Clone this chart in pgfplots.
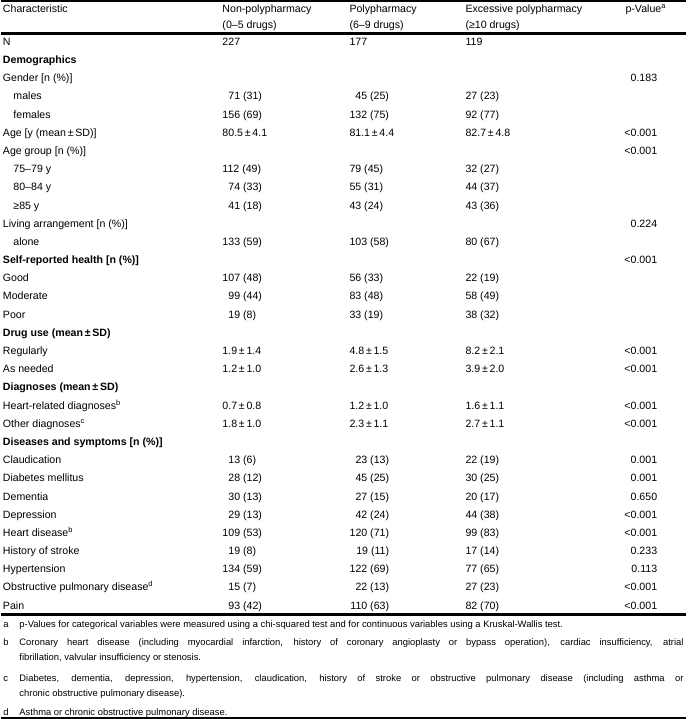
\documentclass[border=0pt]{standalone}
\usepackage{fontspec}
\setmainfont{Liberation Sans}
\usepackage{pgfplots}
\pgfplotsset{compat=1.18}

% sizes are in pt, and 1pt is one pixel of the reference
\newcommand\body{\fontsize{10.6}{13}\selectfont}
\newcommand\foot{\fontsize{9.4}{12}\selectfont}
\newcommand\PM{\,±\,}

% left-aligned text, right-aligned text, footnote text
\newcommand\cellL[3]{\node[anchor=base west,inner sep=0pt,font=\body] at (axis cs:#1,#2) {#3};}
\newcommand\cellR[3]{\node[anchor=base east,inner sep=0pt,font=\body] at (axis cs:#1,#2) {#3};}
\newcommand\note[3]{\node[anchor=base west,inner sep=0pt,font=\foot] at (axis cs:#1,#2) {#3};}

% one table row: y, label x, label, three groups, p-value
\newcommand\row[7]{\cellL{#2}{#1}{#3}\cellL{221}{#1}{#4}\cellL{348}{#1}{#5}\cellL{464}{#1}{#6}\cellR{656}{#1}{#7}}
% diseases rows: the polypharmacy column is right-aligned
\newcommand\drow[6]{\cellL{1.5}{#1}{#2}\cellL{221}{#1}{#3}\cellR{388}{#1}{#4}\cellL{464}{#1}{#5}\cellR{656}{#1}{#6}}

\begin{document}
\begin{tikzpicture}
\begin{axis}[
  width=685pt, height=719pt, scale only axis,
  xmin=0, xmax=685, ymin=0, ymax=719, y dir=reverse,
  hide axis, clip=false]

% rules
\addplot[black, line width=2.5pt] coordinates {(0,1.3) (685,1.3)};
\addplot[black, line width=2.5pt] coordinates {(0,33.4) (685,33.4)};
\addplot[black, line width=2.5pt] coordinates {(0,614.3) (685,614.3)};
\addplot[black, line width=2.5pt] coordinates {(0,717.7) (685,717.7)};

% header
\cellL{1.5}{12.5}{Characteristic}
\cellL{221}{12.5}{Non-polypharmacy}
\cellL{221}{28.5}{(0–5 drugs)}
\cellL{348}{12.5}{Polypharmacy}
\cellL{348}{28.5}{(6–9 drugs)}
\cellL{464}{12.5}{Excessive polypharmacy}
\cellL{464}{28.5}{(≥10 drugs)}
\cellL{624}{12.5}{p-Value\textsuperscript{a}}

% body
\row{45.5}{1.5}{N}{227}{177}{119}{}
\row{63.7}{1.5}{\textbf{Demographics}}{}{}{}{}
\row{81.9}{1.5}{Gender [n (\%)]}{}{}{}{0.183}
\row{100.0}{12}{males}{\phantom{0}71 (31)}{\phantom{0}45 (25)}{27 (23)}{}
\row{118.2}{12}{females}{156 (69)}{132 (75)}{92 (77)}{}
\row{136.4}{1.5}{Age [y (mean\PM SD)]}{80.5\PM 4.1}{81.1\PM 4.4}{82.7\PM 4.8}{<0.001}
\row{154.6}{1.5}{Age group [n (\%)]}{}{}{}{<0.001}
\row{172.8}{12}{75–79 y}{112 (49)}{79 (45)}{32 (27)}{}
\row{190.9}{12}{80–84 y}{\phantom{0}74 (33)}{55 (31)}{44 (37)}{}
\row{209.1}{12}{≥85 y}{\phantom{0}41 (18)}{43 (24)}{43 (36)}{}
\row{227.3}{1.5}{Living arrangement [n (\%)]}{}{}{}{0.224}
\row{245.5}{12}{alone}{133 (59)}{103 (58)}{80 (67)}{}
\row{263.7}{1.5}{\textbf{Self-reported health [n (\%)]}}{}{}{}{<0.001}
\row{281.8}{1.5}{Good}{107 (48)}{56 (33)}{22 (19)}{}
\row{300.0}{1.5}{Moderate}{\phantom{0}99 (44)}{83 (48)}{58 (49)}{}
\row{318.2}{1.5}{Poor}{\phantom{0}19 (8)}{33 (19)}{38 (32)}{}
\row{336.4}{1.5}{\textbf{Drug use (mean\PM SD)}}{}{}{}{}
\row{354.6}{1.5}{Regularly}{1.9\PM 1.4}{4.8\PM 1.5}{8.2\PM 2.1}{<0.001}
\row{372.7}{1.5}{As needed}{1.2\PM 1.0}{2.6\PM 1.3}{3.9\PM 2.0}{<0.001}
\row{390.9}{1.5}{\textbf{Diagnoses (mean\PM SD)}}{}{}{}{}
\row{409.1}{1.5}{Heart-related diagnoses\textsuperscript{b}}{0.7\PM 0.8}{1.2\PM 1.0}{1.6\PM 1.1}{<0.001}
\row{427.3}{1.5}{Other diagnoses\textsuperscript{c}}{1.8\PM 1.0}{2.3\PM 1.1}{2.7\PM 1.1}{<0.001}
\row{445.5}{1.5}{\textbf{Diseases and symptoms [n (\%)]}}{}{}{}{}
\drow{463.6}{Claudication}{\phantom{0}13 (6)}{23 (13)}{22 (19)}{0.001}
\drow{481.8}{Diabetes mellitus}{\phantom{0}28 (12)}{45 (25)}{30 (25)}{0.001}
\drow{500.0}{Dementia}{\phantom{0}30 (13)}{27 (15)}{20 (17)}{0.650}
\drow{518.2}{Depression}{\phantom{0}29 (13)}{42 (24)}{44 (38)}{<0.001}
\drow{536.4}{Heart disease\textsuperscript{b}}{109 (53)}{120 (71)}{99 (83)}{<0.001}
\drow{554.5}{History of stroke}{\phantom{0}19 (8)}{19 (11)}{17 (14)}{0.233}
\drow{572.7}{Hypertension}{134 (59)}{122 (69)}{77 (65)}{0.113}
\drow{590.9}{Obstructive pulmonary disease\textsuperscript{d}}{\phantom{0}15 (7)}{22 (13)}{27 (23)}{<0.001}
\drow{609.1}{Pain}{\phantom{0}93 (42)}{110 (63)}{82 (70)}{<0.001}

% footnotes
\note{2}{627.5}{a}
\note{18}{627.5}{p-Values for categorical variables were measured using a chi-squared test and for continuous variables using a Kruskal-Wallis test.}
\note{2}{645.5}{b}
\note{18}{645.5}{\makebox[664pt][s]{Coronary heart disease (including myocardial infarction, history of coronary angioplasty or bypass operation), cardiac insufficiency, atrial}}
\note{18}{660.5}{fibrillation, valvular insufficiency or stenosis.}
\note{2}{681.5}{c}
\note{18}{681.5}{\makebox[664pt][s]{Diabetes, dementia, depression, hypertension, claudication, history of stroke or obstructive pulmonary disease (including asthma or}}
\note{18}{696.5}{chronic obstructive pulmonary disease).}
\note{2}{715}{d}
\note{18}{715}{Asthma or chronic obstructive pulmonary disease.}
\end{axis}
\end{tikzpicture}
\end{document}
